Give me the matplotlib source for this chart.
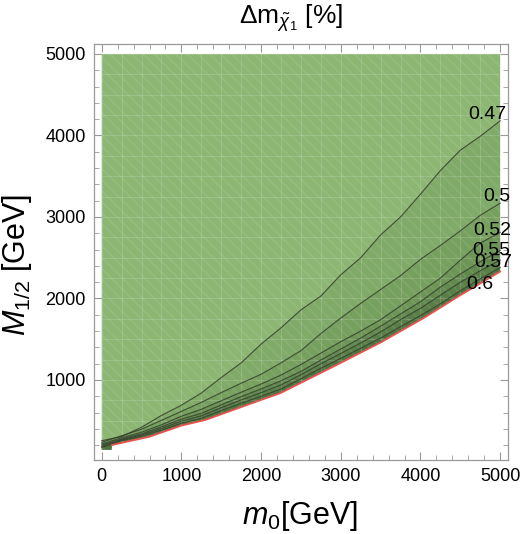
import matplotlib
matplotlib.use('Agg')
import matplotlib.pyplot as plt
from matplotlib.patches import Polygon
from matplotlib.ticker import MultipleLocator
import numpy as np

# contour lines of delta m, m0 in GeV
m0 = [0, 250, 500, 750, 1000, 1250, 1500, 1750, 2000, 2250, 2500,
      2750, 3000, 3250, 3500, 3750, 4000, 4250, 4500, 4750, 5000]
levels = ['0.47', '0.5', '0.52', '0.55', '0.57', '0.6']
c047 = [255, 305, 420, 565, 690, 840, 1030, 1210, 1440, 1640, 1860,
        2030, 2290, 2500, 2780, 3000, 3280, 3570, 3820, 3990, 4180]
c050 = [235, 315, 395, 505, 615, 725, 845, 960, 1070, 1210, 1360,
        1570, 1760, 1940, 2110, 2280, 2480, 2650, 2830, 3020, 3170]
c052 = [215, 290, 360, 450, 555, 640, 745, 850, 950, 1060, 1190,
        1330, 1470, 1600, 1740, 1910, 2080, 2250, 2470, 2680, 2810]
c055 = [200, 275, 340, 425, 520, 590, 695, 795, 890, 990, 1105,
        1245, 1380, 1515, 1660, 1810, 1960, 2140, 2300, 2450, 2590]
c057 = [185, 265, 325, 405, 495, 560, 660, 755, 845, 940, 1065,
        1200, 1325, 1455, 1590, 1740, 1880, 2040, 2200, 2340, 2470]
c060 = [170, 255, 310, 385, 470, 530, 625, 715, 800, 890, 1015,
        1145, 1265, 1390, 1515, 1655, 1790, 1935, 2095, 2240, 2380]
contours = [c047, c050, c052, c055, c057, c060]

# lower edge of the allowed region (red line)
edge_m0 = [0, 125, 130, 600, 1000, 1300, 2000, 2240, 2500, 3000, 3500, 4035, 4500, 5000]
edge_m12 = [141, 141, 202, 304, 440, 509, 755, 837, 965, 1210, 1460, 1757, 2040, 2330]

band_colors = ['#8cb672', '#80aa67', '#76a05e', '#6c9556', '#628a4e', '#597f47', '#4f7440']

plt.rcParams['font.family'] = ['Liberation Sans', 'DejaVu Sans']
plt.rcParams['mathtext.fontset'] = 'custom'
plt.rcParams['mathtext.rm'] = 'Liberation Sans'
plt.rcParams['mathtext.it'] = 'Liberation Sans:italic'
plt.rcParams['hatch.linewidth'] = 1.5

fig = plt.figure(figsize=(5.21, 5.34), dpi=100)
ax = fig.add_axes([0.1804, 0.1386, 0.7946, 0.7785])

top = 5000
# bands, from the top one down
upper_lines = [None] + contours
lower_lines = contours + [None]
for i, (up, lo) in enumerate(zip(upper_lines, lower_lines)):
    if up is None:
        ux, uy = [0, top], [top, top]
    else:
        ux, uy = m0, up
    if lo is None:
        lx, ly = edge_m0, edge_m12
    else:
        lx, ly = m0, lo
    verts = list(zip(ux, uy)) + list(zip(lx[::-1], ly[::-1]))
    ax.add_patch(Polygon(verts, closed=True, facecolor=band_colors[i],
                         edgecolor='none', zorder=1))

# texture: faint mesh clipped to the region
outline = [(0, top)] + list(zip(edge_m0, edge_m12)) + [(5000, top)]
region = Polygon(outline, closed=True, facecolor='none', edgecolor='none')
ax.add_patch(region)
for v in np.arange(0, 5001, 250):
    ln = ax.axvline(v, color='white', alpha=0.15, lw=0.8, zorder=2)
    ln.set_clip_path(region)
    ln = ax.axhline(v, color='white', alpha=0.15, lw=0.8, zorder=2)
    ln.set_clip_path(region)
ax.add_patch(Polygon(outline, closed=True, facecolor='none',
                     edgecolor=(1, 1, 1, 0.07), hatch='\\\\\\',
                     linewidth=0, zorder=2))

for c in contours:
    ax.plot(m0, c, color='#2e3a26', lw=0.8, alpha=0.85, zorder=3)
ax.plot(edge_m0[2:], edge_m12[2:], color='#e8524f', lw=1.3, zorder=4)

label_pos = [(4834, 4252), (4960, 3245), (4897, 2840),
             (4884, 2583), (4910, 2436), (4746, 2166)]
for lab, (lx, ly) in zip(levels, label_pos):
    ax.text(lx, ly, lab, fontsize=14, ha='center', va='center', zorder=5)

ax.set_xlim(-97, 5098)
ax.set_ylim(18, 5119)
ax.xaxis.set_major_locator(MultipleLocator(1000))
ax.yaxis.set_major_locator(MultipleLocator(1000))
ax.xaxis.set_minor_locator(MultipleLocator(200))
ax.yaxis.set_minor_locator(MultipleLocator(200))
ax.tick_params(which='both', direction='in', top=True, right=True,
               color='#999999', labelsize=13)
ax.tick_params(which='major', length=6, width=0.8, pad=6)
ax.tick_params(which='minor', length=3.5, width=0.6)
for s in ax.spines.values():
    s.set_color('#999999')
    s.set_linewidth(0.9)

ax.set_xlabel(r'$m_0$[GeV]', fontsize=22)
ax.xaxis.set_label_coords(0.498, -0.095)
ax.set_ylabel(r'$M_{1/2}$ [GeV]', fontsize=22)
ax.yaxis.set_label_coords(-0.145, 0.47)
fig.text(291 / 521, 1 - 18 / 534, r'$\Delta\mathrm{m}_{\tilde{\chi}_1}$ [%]',
         fontsize=19, ha='center', va='center')

fig.savefig('out.png', dpi=100)
